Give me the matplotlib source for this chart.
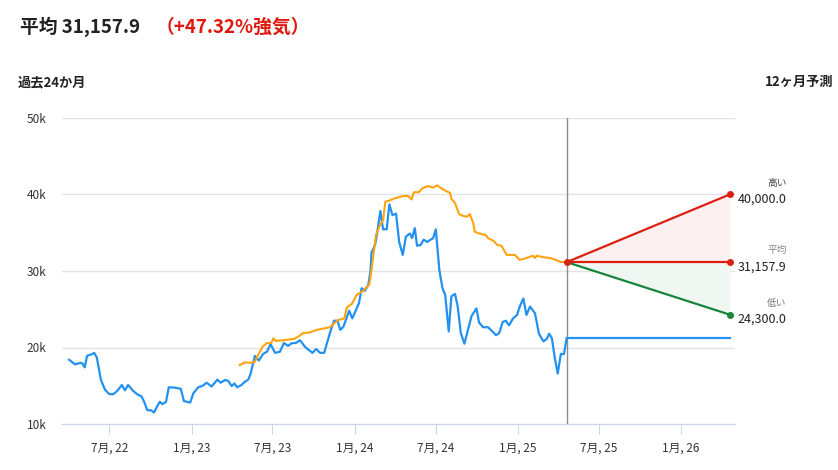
import matplotlib
matplotlib.use("Agg")
import matplotlib.pyplot as plt
import pandas as pd

plt.rcParams['font.family'] = ['Noto Sans CJK JP', 'DejaVu Sans']

# price history (past)
price_dates = [
    '2022-04-02', '2022-04-15', '2022-04-28', '2022-05-02', '2022-05-07', '2022-05-12',
    '2022-05-24', '2022-05-28', '2022-06-03', '2022-06-12', '2022-06-21', '2022-07-01',
    '2022-07-10', '2022-07-19', '2022-07-29', '2022-08-05', '2022-08-12', '2022-08-23',
    '2022-09-01', '2022-09-11', '2022-09-17', '2022-09-24', '2022-10-02', '2022-10-09',
    '2022-10-16', '2022-10-22', '2022-10-28', '2022-11-05', '2022-11-11', '2022-11-25',
    '2022-12-08', '2022-12-15', '2022-12-29', '2023-01-05', '2023-01-16', '2023-01-26',
    '2023-02-04', '2023-02-15', '2023-02-28', '2023-03-07', '2023-03-17', '2023-03-24',
    '2023-04-01', '2023-04-07', '2023-04-13', '2023-04-23', '2023-04-30', '2023-05-08',
    '2023-05-13', '2023-05-23', '2023-06-01', '2023-06-10', '2023-06-19', '2023-06-27',
    '2023-07-07', '2023-07-18', '2023-07-27', '2023-08-05', '2023-08-13', '2023-08-23',
    '2023-09-01', '2023-09-12', '2023-09-20', '2023-09-29', '2023-10-07', '2023-10-16',
    '2023-10-25', '2023-11-07', '2023-11-16', '2023-11-24', '2023-11-30', '2023-12-07',
    '2023-12-20', '2023-12-27', '2024-01-11', '2024-01-17', '2024-01-24', '2024-02-01',
    '2024-02-06', '2024-02-08', '2024-02-16', '2024-02-21', '2024-02-28', '2024-03-05',
    '2024-03-13', '2024-03-19', '2024-03-26', '2024-04-03', '2024-04-10', '2024-04-18',
    '2024-04-25', '2024-05-04', '2024-05-09', '2024-05-15', '2024-05-20', '2024-05-28',
    '2024-06-04', '2024-06-12', '2024-06-18', '2024-06-25', '2024-07-01', '2024-07-09',
    '2024-07-16', '2024-07-22', '2024-07-30', '2024-08-05', '2024-08-13', '2024-08-19',
    '2024-08-26', '2024-09-03', '2024-09-12', '2024-09-19', '2024-09-30', '2024-10-06',
    '2024-10-15', '2024-10-26', '2024-11-03', '2024-11-13', '2024-11-20', '2024-11-28',
    '2024-12-05', '2024-12-12', '2024-12-21', '2024-12-30', '2025-01-05', '2025-01-13',
    '2025-01-20', '2025-01-28', '2025-02-08', '2025-02-17', '2025-02-27', '2025-03-06',
    '2025-03-12', '2025-03-18', '2025-03-25', '2025-03-31', '2025-04-07', '2025-04-14',
    '2025-04-20',
]
price_values = [
    18400, 17800, 18000, 17900, 17400, 18900,
    19150, 19300, 18700, 15800, 14500, 13900,
    13900, 14350, 15100, 14400, 15100, 14350,
    13900, 13600, 12900, 11800, 11800, 11500,
    12300, 12900, 12600, 12900, 14800, 14750,
    14600, 13000, 12800, 14000, 14800, 15000,
    15400, 14900, 15800, 15400, 15750, 15650,
    14950, 15300, 14800, 15100, 15500, 15800,
    16500, 18900, 18300, 19150, 19450, 20450,
    19300, 19450, 20600, 20200, 20550, 20600,
    20950, 20100, 19700, 19300, 19800, 19300,
    19300, 21900, 23500, 23500, 22300, 22700,
    24800, 23800, 25800, 27750, 27400, 28200,
    30100, 32400, 33400, 35100, 37850, 35450,
    35450, 38700, 37300, 37500, 33800, 32100,
    34500, 34900, 34300, 35600, 33300, 33400,
    34100, 33800, 34050, 34300, 35450, 30100,
    27750, 26900, 22100, 26700, 27000, 25400,
    21900, 20500, 22500, 24100, 25100, 23250,
    22650, 22650, 22200, 21600, 21900, 23350,
    23500, 22900, 23800, 24250, 25350, 26400,
    24250, 25350, 24500, 21800, 20800, 21100,
    21800, 21200, 18450, 16600, 19150, 19150,
    21200,
]

# average analyst target (past)
target_dates = [
    '2023-04-19', '2023-04-30', '2023-05-15', '2023-05-23', '2023-05-30', '2023-06-09',
    '2023-06-18', '2023-06-29', '2023-07-03', '2023-07-09', '2023-08-02', '2023-08-20',
    '2023-08-30', '2023-09-08', '2023-09-22', '2023-10-08', '2023-11-07', '2023-11-15',
    '2023-11-26', '2023-12-09', '2023-12-15', '2023-12-26', '2024-01-06', '2024-01-21',
    '2024-01-28', '2024-02-03', '2024-02-08', '2024-02-18', '2024-02-27', '2024-03-05',
    '2024-03-10', '2024-03-19', '2024-03-31', '2024-04-19', '2024-04-30', '2024-05-08',
    '2024-05-13', '2024-05-24', '2024-05-30', '2024-06-04', '2024-06-14', '2024-06-25',
    '2024-07-04', '2024-07-16', '2024-08-02', '2024-08-05', '2024-08-13', '2024-08-22',
    '2024-08-31', '2024-09-09', '2024-09-15', '2024-09-23', '2024-09-26', '2024-10-06',
    '2024-10-21', '2024-10-26', '2024-11-07', '2024-11-16', '2024-11-25', '2024-12-07',
    '2024-12-25', '2025-01-05', '2025-01-20', '2025-02-04', '2025-02-08', '2025-02-12',
    '2025-02-27', '2025-03-14', '2025-03-29', '2025-04-05', '2025-04-20',
]
target_values = [
    17700, 18050, 18000, 18150, 19000, 20100,
    20550, 20600, 21200, 20850, 21000, 21150,
    21500, 21900, 21950, 22300, 22650, 23100,
    23600, 23800, 25250, 25700, 26900, 27400,
    27900, 28200, 30100, 34700, 36000, 36650,
    39050, 39200, 39500, 39800, 39800, 39350,
    40300, 40300, 40700, 40900, 41100, 40900,
    41200, 40700, 40200, 39400, 38900, 37450,
    37200, 37100, 37450, 36250, 35150, 34900,
    34700, 34300, 33950, 33400, 33300, 32100,
    32100, 31450, 31700, 32000, 31700, 32000,
    31800, 31700, 31400, 31200, 31157.9,
]

# 12 month forecast
forecast_dates = ['2025-04-20', '2026-04-20']
forecast_high = [31157.9, 40000.0]
forecast_avg = [31157.9, 31157.9]
forecast_low = [31157.9, 24300.0]

x_tick_dates = ['2022-07-01', '2023-01-01', '2023-07-01', '2024-01-01',
                '2024-07-01', '2025-01-01', '2025-07-01', '2026-01-01']
y_ticks = [10000, 20000, 30000, 40000, 50000]

BLUE = '#2391f0'
ORANGE = '#ffa30f'
RED = '#dc1f12'
GREEN = '#17853a'

pd_price = pd.to_datetime(price_dates)
pd_target = pd.to_datetime(target_dates)
pd_fc = pd.to_datetime(forecast_dates)

fig = plt.figure(figsize=(8.38, 4.70), dpi=100)
ax = fig.add_axes([62 / 838, 46 / 470, 673 / 838, 306 / 470])

ax.fill_between(pd_fc, forecast_avg, forecast_high, color='#fdf0f0', lw=0)
ax.fill_between(pd_fc, forecast_low, forecast_avg, color='#f0f7f2', lw=0)

ax.plot(pd_price, price_values, color=BLUE, lw=1.6, zorder=3)
# current price carried across the forecast window
ax.plot([pd_price[-1], pd_fc[-1]], [price_values[-1], price_values[-1]],
        color=BLUE, lw=1.6, zorder=3)
ax.plot(pd_target, target_values, color=ORANGE, lw=1.5, zorder=3)

ax.plot(pd_fc, forecast_high, color=RED, lw=1.6, zorder=4)
ax.plot(pd_fc, forecast_avg, color=RED, lw=1.6, zorder=4)
ax.plot(pd_fc, forecast_low, color=GREEN, lw=1.6, zorder=4)
ax.plot(pd_fc[0], forecast_avg[0], 'o', color=RED, ms=4, zorder=5)
ax.plot(pd_fc[1], forecast_high[1], 'o', color=RED, ms=4, zorder=5)
ax.plot(pd_fc[1], forecast_avg[1], 'o', color=RED, ms=4, zorder=5)
ax.plot(pd_fc[1], forecast_low[1], 'o', color=GREEN, ms=4, zorder=5)

ax.axvline(pd_fc[0], color='#8c8c8c', lw=1, zorder=2)

for name, val, name_color in [('高い', forecast_high[1], '#444444'),
                              ('平均', forecast_avg[1], '#888888'),
                              ('低い', forecast_low[1], '#777777')]:
    ax.annotate(f'{val:,.1f}', xy=(pd_fc[1], val), xytext=(41, -3.5),
                textcoords='offset points', ha='right', va='center',
                fontsize=9, color='#222222', annotation_clip=False)
    ax.annotate(name, xy=(pd_fc[1], val), xytext=(41, 8.5),
                textcoords='offset points', ha='right', va='center',
                fontsize=7, color=name_color, annotation_clip=False)

ax.set_xlim(pd.Timestamp('2022-03-17'), pd.Timestamp('2026-05-02'))
ax.set_ylim(10000, 50000)
ax.set_yticks(y_ticks)
ax.set_yticklabels([f'{v // 1000}k' for v in y_ticks])
ticks = pd.to_datetime(x_tick_dates)
ax.set_xticks(ticks)
ax.set_xticklabels([f'{d.month}月, {d:%y}' for d in ticks])

ax.grid(axis='y', color='#e3e3e3', lw=1)
ax.set_axisbelow(True)
for side in ['top', 'right', 'left']:
    ax.spines[side].set_visible(False)
ax.spines['bottom'].set_color('#ccd6eb')
ax.tick_params(axis='y', length=0, pad=11, labelsize=8.5, labelcolor='#333333')
ax.tick_params(axis='x', length=7, color='#ccd6eb', pad=6, labelsize=8.5,
               labelcolor='#333333')

fig.text(20 / 838, 1 - 27 / 470, '平均 31,157.9', fontsize=13.5, fontweight='bold',
         color='#222222', va='center', ha='left')
fig.text(156 / 838, 1 - 27 / 470, '（+47.32%強気）', fontsize=13.5, fontweight='bold',
         color='#e0190f', va='center', ha='left')
fig.text(18 / 838, 1 - 82 / 470, '過去24か月', fontsize=9.5, fontweight='bold',
         color='#222222', va='center', ha='left')
fig.text(833 / 838, 1 - 82 / 470, '12ヶ月予測', fontsize=9.5, fontweight='bold',
         color='#222222', va='center', ha='right')

fig.savefig('out.png', dpi=100)
